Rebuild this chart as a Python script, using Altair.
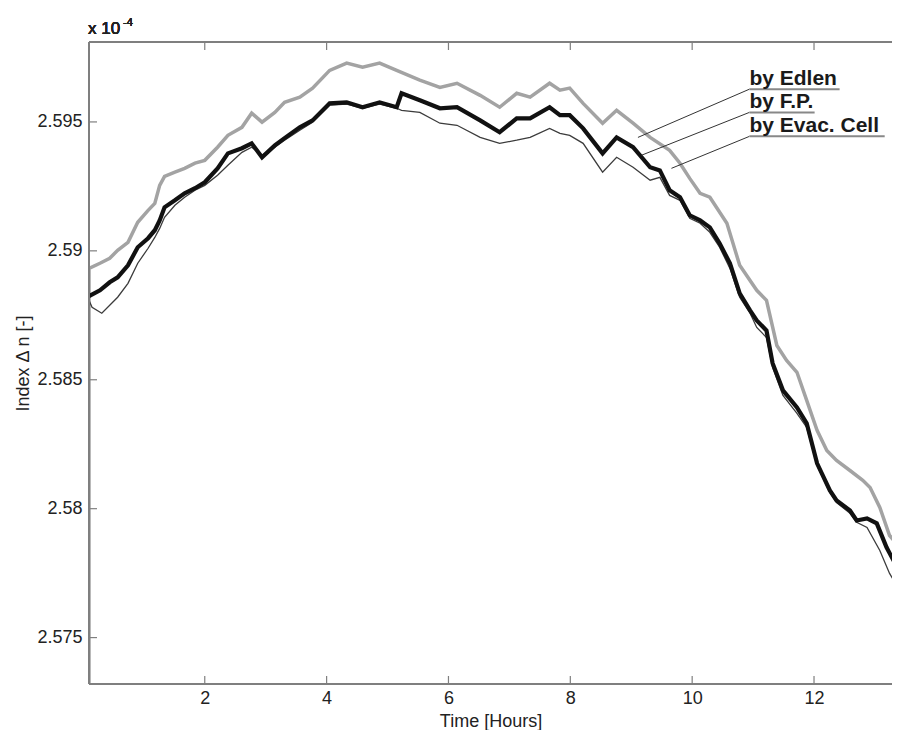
import altair as alt
import pandas as pd

# ---- data (index values in units of 1e-4, time in hours) ----
edlen_t = [0.10, 0.10, 0.28, 0.44, 0.57, 0.74, 0.90, 1.07, 1.18, 1.26, 1.34, 1.51, 1.67, 1.84, 2.00,
           2.21, 2.38, 2.61, 2.77, 2.94, 3.15, 3.31, 3.56, 3.77, 4.05, 4.33, 4.59, 4.87, 5.15, 5.53,
           5.86, 6.14, 6.52, 6.84, 7.12, 7.34, 7.66, 7.83, 7.99, 8.21, 8.53, 8.76, 9.03, 9.31, 9.63,
           9.80, 9.96, 10.13, 10.29, 10.57, 10.78, 11.06, 11.22, 11.39, 11.55, 11.72, 11.88, 12.05,
           12.21, 12.37, 12.59, 12.80, 12.92, 13.08, 13.24, 13.41]
edlen_v = [2.5650, 2.58932, 2.58952, 2.58971, 2.59002, 2.59033, 2.59111, 2.59157, 2.59184, 2.59254,
           2.59289, 2.59305, 2.59320, 2.59340, 2.59351, 2.59402, 2.59448, 2.59479, 2.59534, 2.59499,
           2.59537, 2.59576, 2.59596, 2.59631, 2.59700, 2.59728, 2.59712, 2.59728, 2.59700, 2.59662,
           2.59634, 2.59650, 2.59603, 2.59557, 2.59611, 2.59596, 2.59650, 2.59623, 2.59631, 2.59572,
           2.59495, 2.59545, 2.59495, 2.59440, 2.59390, 2.59340, 2.59281, 2.59223, 2.59208, 2.59107,
           2.58944, 2.58847, 2.58808, 2.58633, 2.58575, 2.58529, 2.58420, 2.58304, 2.58226, 2.58187,
           2.58148, 2.58110, 2.58082, 2.58005, 2.57896, 2.57850]

fp_t = [0.10, 0.28, 0.44, 0.57, 0.74, 0.90, 1.07, 1.18, 1.26, 1.34, 1.51, 1.67, 1.84, 2.00, 2.21,
        2.38, 2.61, 2.77, 2.94, 3.15, 3.31, 3.56, 3.77, 4.05, 4.33, 4.59, 4.87, 5.15, 5.23, 5.53,
        5.86, 6.14, 6.52, 6.84, 7.12, 7.34, 7.66, 7.83, 7.99, 8.21, 8.53, 8.76, 9.03, 9.31, 9.47,
        9.63, 9.80, 9.96, 10.13, 10.29, 10.45, 10.62, 10.78, 10.95, 11.06, 11.22, 11.32, 11.49,
        11.72, 11.88, 12.05, 12.26, 12.37, 12.59, 12.70, 12.87, 13.03, 13.19, 13.41]
fp_v = [2.58824, 2.58847, 2.58878, 2.58897, 2.58944, 2.59014, 2.59049, 2.59080, 2.59118, 2.59169,
        2.59196, 2.59223, 2.59243, 2.59266, 2.59320, 2.59378, 2.59398, 2.59417, 2.59363, 2.59409,
        2.59437, 2.59479, 2.59506, 2.59572, 2.59576, 2.59557, 2.59576, 2.59557, 2.59611, 2.59584,
        2.59553, 2.59557, 2.59506, 2.59460, 2.59514, 2.59514, 2.59557, 2.59526, 2.59526, 2.59475,
        2.59378, 2.59440, 2.59402, 2.59324, 2.59312, 2.59235, 2.59208, 2.59138, 2.59118, 2.59091,
        2.59029, 2.58952, 2.58835, 2.58769, 2.58730, 2.58691, 2.58564, 2.58459, 2.58393, 2.58331,
        2.58176, 2.58071, 2.58032, 2.57993, 2.57954, 2.57962, 2.57943, 2.57850, 2.57753]

evac_t = [0.10, 0.15, 0.31, 0.57, 0.74, 0.90, 1.07, 1.18, 1.26, 1.34, 1.51, 1.67, 1.84, 2.00, 2.21,
          2.38, 2.61, 2.77, 2.94, 3.15, 3.31, 3.56, 3.77, 4.05, 4.33, 4.59, 4.87, 5.15, 5.23, 5.53,
          5.86, 6.14, 6.52, 6.84, 7.12, 7.34, 7.66, 7.83, 7.99, 8.21, 8.53, 8.76, 9.03, 9.31, 9.47,
          9.63, 9.80, 9.96, 10.13, 10.29, 10.45, 10.62, 10.78, 10.95, 11.06, 11.22, 11.32, 11.49,
          11.72, 11.88, 12.05, 12.26, 12.37, 12.59, 12.70, 12.87, 13.08, 13.24, 13.41]
evac_v = [2.58808, 2.58781, 2.58758, 2.58820, 2.58874, 2.58952, 2.59010, 2.59052, 2.59087, 2.59130,
          2.59177, 2.59208, 2.59235, 2.59254, 2.59293, 2.59332, 2.59382, 2.59402, 2.59371, 2.59402,
          2.59429, 2.59468, 2.59499, 2.59565, 2.59569, 2.59553, 2.59569, 2.59553, 2.59545, 2.59537,
          2.59495, 2.59487, 2.59440, 2.59417, 2.59429, 2.59440, 2.59475, 2.59456, 2.59448, 2.59417,
          2.59305, 2.59363, 2.59324, 2.59274, 2.59285, 2.59215, 2.59196, 2.59126, 2.59107, 2.59072,
          2.59014, 2.58932, 2.58820, 2.58758, 2.58703, 2.58664, 2.58548, 2.58439, 2.58370, 2.58315,
          2.58168, 2.58063, 2.58024, 2.57982, 2.57947, 2.57927, 2.57838, 2.57749, 2.57683]

x_ticks = [2, 4, 6, 8, 10, 12]
y_ticks = [2.575, 2.58, 2.585, 2.59, 2.595]

ann_labels = ["by Edlen", "by F.P.", "by Evac. Cell"]
ann_text_t = [10.94, 10.94, 10.94]
ann_end_t = [12.42, 12.01, 13.16]
ann_text_v = [2.59627, 2.59537, 2.59444]
ann_point_t = [9.11, 9.17, 9.66]
ann_point_v = [2.59440, 2.59371, 2.59320]

# ---- tables ----
def series(t, v, name):
    return pd.DataFrame({"t": t, "v": v, "series": name, "i": range(len(t))})

df_e = series(edlen_t, edlen_v, "by Edlen")
df_f = series(fp_t, fp_v, "by F.P.")
df_c = series(evac_t, evac_v, "by Evac. Cell")
ann = pd.DataFrame({"label": ann_labels, "t": ann_text_t, "t1": ann_end_t, "v": ann_text_v,
                    "tp": ann_point_t, "vp": ann_point_v})
xt = pd.DataFrame({"t": x_ticks})
yt = pd.DataFrame({"v": y_ticks})

W, H = 803, 642
FONT = "Liberation Sans"
AX = "#7f7f7f"
TXT = "#222222"

xs = alt.Scale(domain=[0.1, 13.28], nice=False, zero=False)
ys = alt.Scale(domain=[2.5732, 2.5981], nice=False, zero=False)
xaxis = alt.Axis(values=x_ticks, ticks=False, tickSize=0, domain=False, grid=False,
                 labelFont=FONT, labelFontSize=18, labelColor=TXT, labelPadding=5,
                 titleFont=FONT, titleFontSize=18, titleFontWeight="normal", titleColor=TXT,
                 titleBaseline="alphabetic", titleY=42)
yaxis = alt.Axis(values=y_ticks, ticks=False, tickSize=0, domain=False, grid=False, format=".4~f",
                 labelFont=FONT, labelFontSize=18, labelColor=TXT, labelPadding=7,
                 titleFont=FONT, titleFontSize=18, titleFontWeight="normal", titleColor=TXT,
                 titlePadding=4)


def X(field):
    return alt.X(field, scale=xs, axis=xaxis, title="Time [Hours]")


def Y(field):
    return alt.Y(field, scale=ys, axis=yaxis, title="Index \u0394 n [-]")


def line(df, color, width):
    return alt.Chart(df).mark_line(color=color, strokeWidth=width, clip=True,
                                   strokeJoin="miter").encode(
        x=X("t:Q"), y=Y("v:Q"), order="i:Q")


l_e = line(df_e, "#a3a3a3", 3.5)
l_c = line(df_c, "#3c3c3c", 1.3)
l_f = line(df_f, "#111111", 4.2)

# frame (left, top, bottom) -- the right edge lies outside the picture
frame_top = alt.Chart(xt).mark_rule(color=AX, strokeWidth=1.5).encode(
    x=alt.value(0), x2=alt.value(W + 2), y=alt.value(0))
frame_left = alt.Chart(xt).mark_rule(color=AX, strokeWidth=2).encode(
    x=alt.value(0), y=alt.value(0), y2=alt.value(H))
frame_bottom = alt.Chart(xt).mark_rule(color=AX, strokeWidth=2).encode(
    x=alt.value(0), x2=alt.value(W + 2), y=alt.value(H))

tick_b = alt.Chart(xt).mark_rule(color=AX, strokeWidth=1.2).encode(
    x=X("t:Q"), y=alt.value(H), y2=alt.value(H - 8))
tick_t = alt.Chart(xt).mark_rule(color=AX, strokeWidth=1.2).encode(
    x=X("t:Q"), y=alt.value(0), y2=alt.value(8))
tick_l = alt.Chart(yt).mark_rule(color=AX, strokeWidth=1.2).encode(
    y=Y("v:Q"), x=alt.value(0), x2=alt.value(8))

conn = alt.Chart(ann).mark_rule(color="#333333", strokeWidth=1).encode(
    x=X("tp:Q"), y=Y("vp:Q"), x2="t:Q", y2="v:Q")
under = alt.Chart(ann).mark_rule(color="#888888", strokeWidth=2).encode(
    x=X("t:Q"), x2="t1:Q", y=Y("v:Q"))
labels = alt.Chart(ann).mark_text(align="left", baseline="alphabetic", dy=-4, font=FONT,
                                  fontSize=21, fontWeight="bold", color="#1a1a1a").encode(
    x=X("t:Q"), y=Y("v:Q"), text="label:N")

exp_base = alt.Chart(xt).mark_text(align="left", baseline="alphabetic", font=FONT, fontSize=17,
                                   color=TXT, text="x 10").encode(
    x=alt.value(-1), y=alt.value(-8))
exp_sup = alt.Chart(xt).mark_text(align="left", baseline="alphabetic", font=FONT, fontSize=11,
                                  color=TXT, text="-4").encode(
    x=alt.value(34), y=alt.value(-16))

chart = alt.layer(l_e, l_c, l_f, frame_top, frame_left, frame_bottom, tick_b, tick_t, tick_l,
                  conn, under, labels, exp_base, exp_sup).properties(
    width=W, height=H, autosize="none",
    padding={"left": 81, "top": 34, "right": 0, "bottom": 46},
).configure_view(stroke=None).configure(background="white")

chart.save("out.html", embed_options={"renderer": "svg", "actions": False})
